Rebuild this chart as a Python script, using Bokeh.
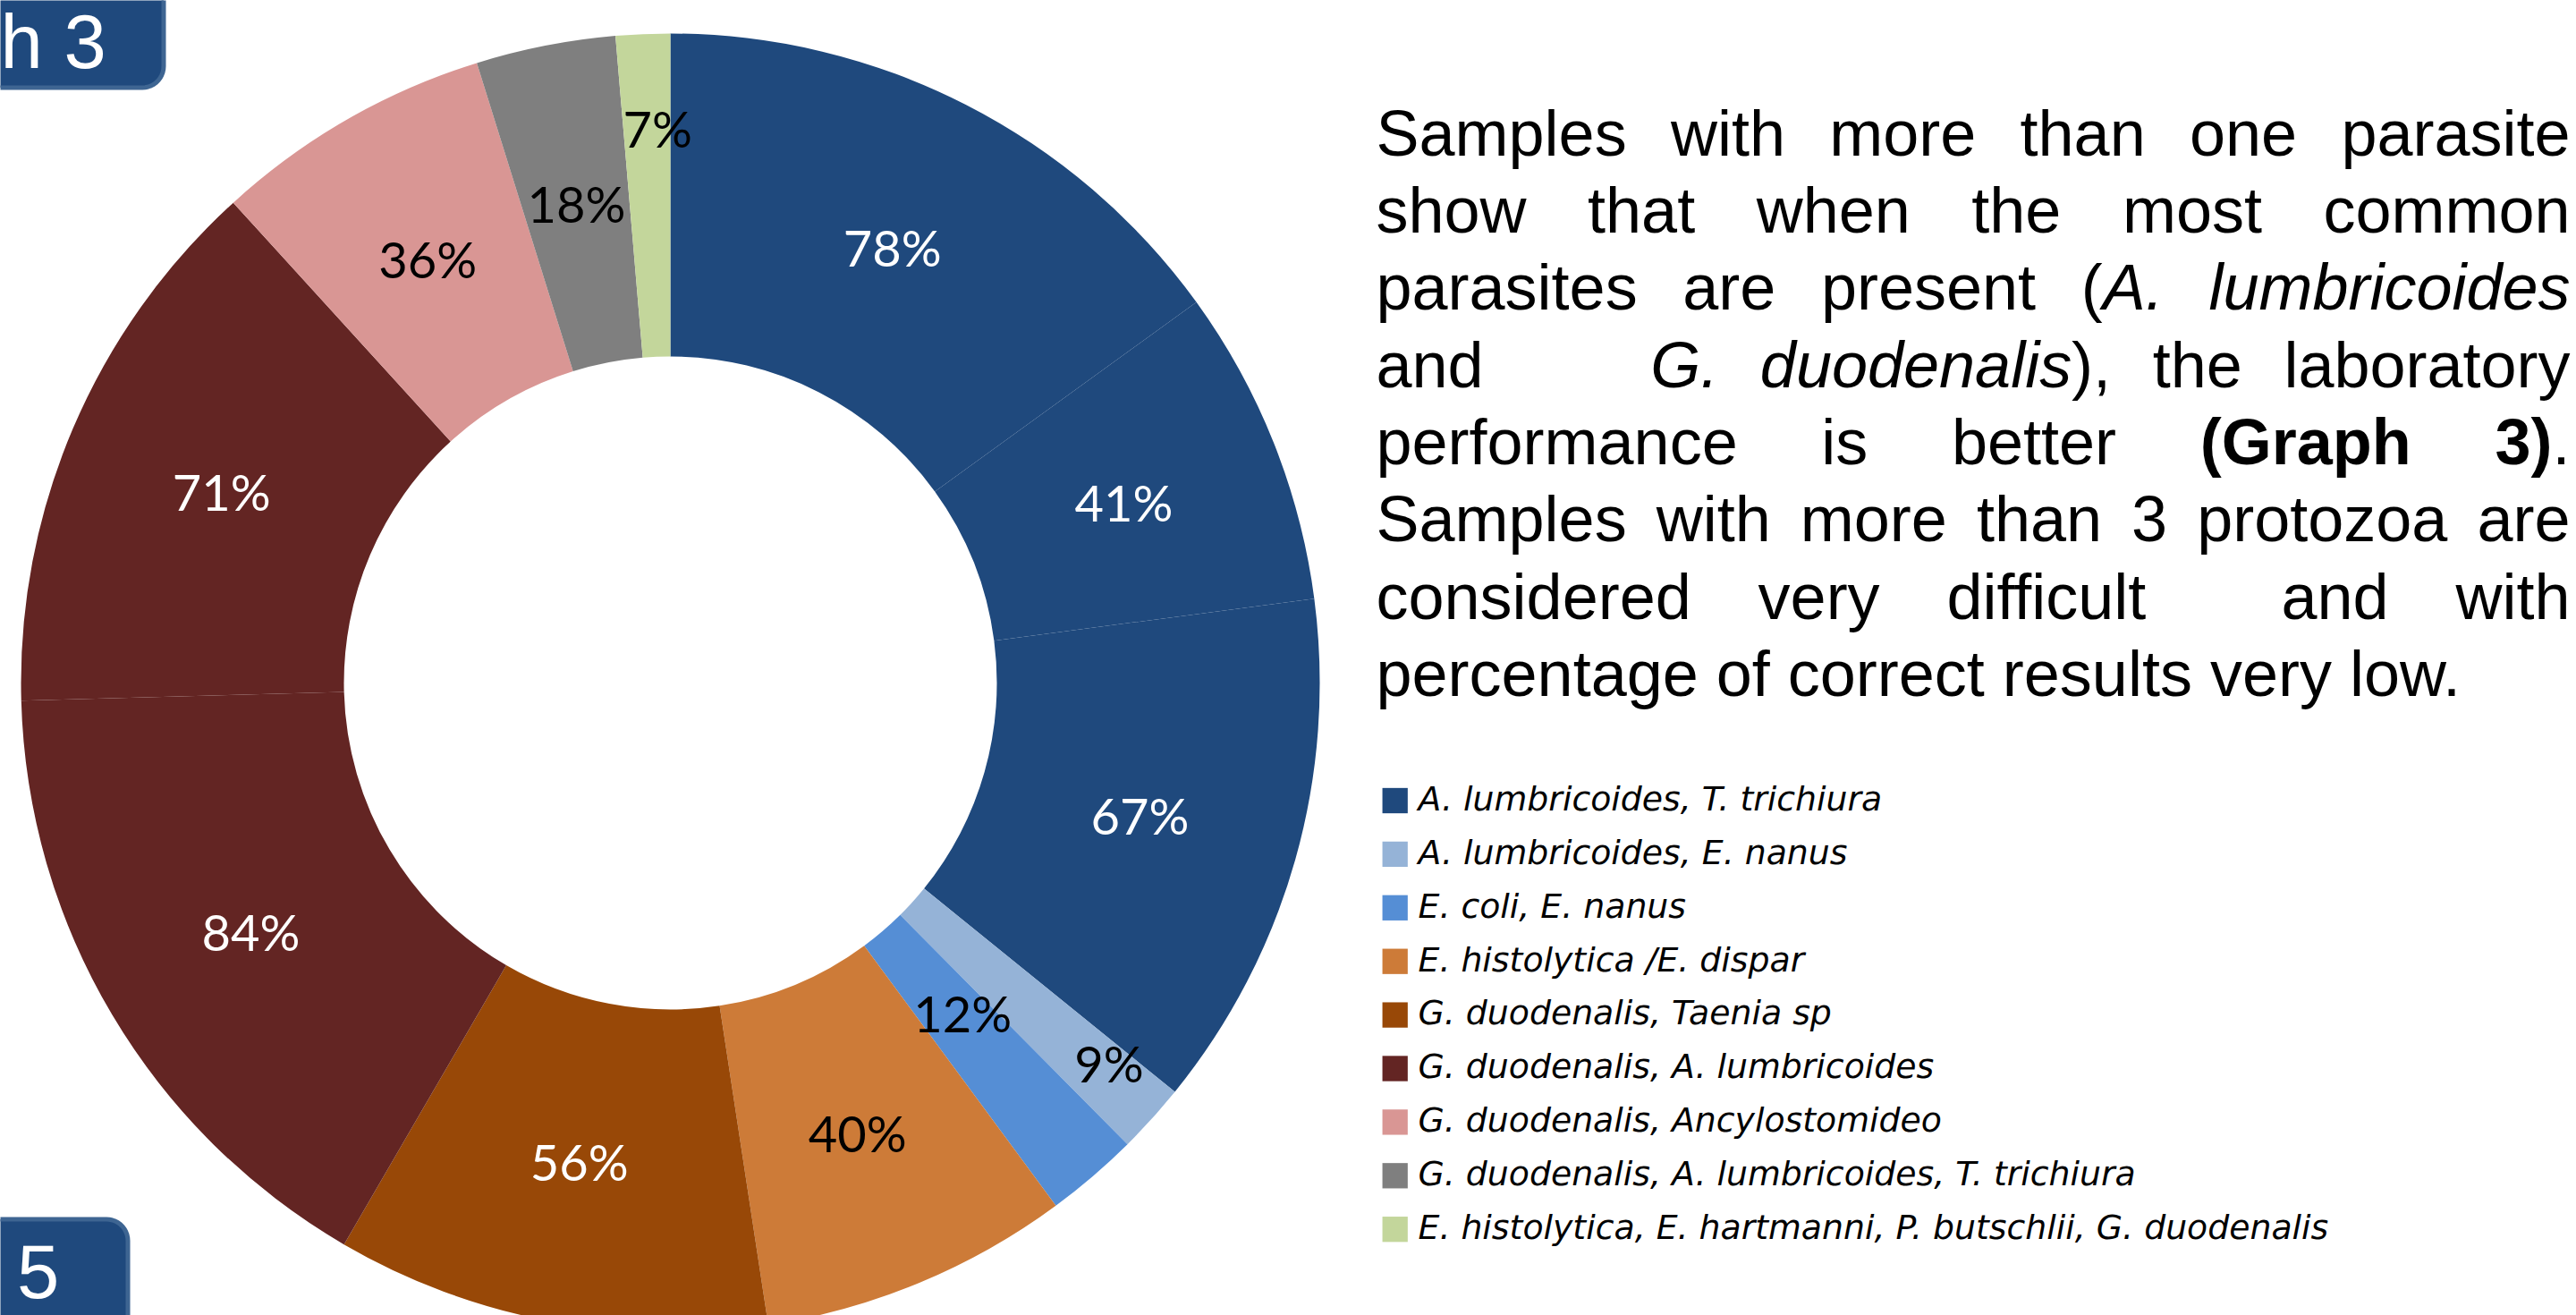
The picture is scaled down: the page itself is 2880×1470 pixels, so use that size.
import numpy as np
from bokeh.plotting import figure
from bokeh.models import Range1d, ColumnDataSource
from bokeh.core.properties import value
from bokeh.embed import file_html
from bokeh.resources import INLINE

# ---------------- data ----------------
categories = [
    "A. lumbricoides, T. trichiura",
    "A. lumbricoides, E. nanus",
    "E. coli, E. nanus",
    "E. histolytica /E. dispar",
    "G. duodenalis, Taenia sp",
    "G. duodenalis, A. lumbricoides",
    "G. duodenalis, Ancylostomideo",
    "G. duodenalis, A. lumbricoides, T. trichiura",
    "E. histolytica, E. hartmanni, P. butschlii, G. duodenalis",
]
category_colors = ["#1F497D", "#95B3D7", "#558ED5", "#CD7B38", "#984807",
                   "#632523", "#D99694", "#7F7F7F", "#C3D69B"]
label_on_dark = [True, False, False, False, True, True, False, False, False]

slice_values = [78, 41, 67, 9, 12, 40, 56, 84, 71, 36, 18, 7]
slice_category = [0, 0, 0, 1, 2, 3, 4, 5, 5, 6, 7, 8]

# label placement tweaks (Excel nudged a few crowded labels)
label_radial = [1, 1, 1, 1.19, 0.905, 1, 1, 1, 1, 1, 1, 1.135]
label_turn = [0, 0, 0, -1.2, -0.85, 0, 0, 0, 0, 0, 0, 1.1]

paragraph_lines = [
    "Samples with more than one parasite",
    "show that when the most common",
    "parasites are present (_A._ _lumbricoides_",
    "and    _G._ _duodenalis_), the laboratory",
    "performance is better *(Graph* *3)*.",
    "Samples with more than 3 protozoa are",
    "considered very difficult  and with",
    "percentage of correct results very low.",
]
tab_top_text = "h 3"
tab_bottom_text = "5"

# ---------------- canvas ----------------
W, H = 2880, 1470
p = figure(width=W, height=H, x_range=Range1d(0, W), y_range=Range1d(0, H),
           output_backend="svg", toolbar_location=None, min_border=0,
           outline_line_color=None, background_fill_color="white",
           border_fill_color="white")
p.axis.visible = False
p.grid.visible = False

def Y(py):
    return H - py

SHIFT = 0.37  # baseline correction (in em) for how the svg text is placed

def base(py, fs):
    """data-y for a text whose alphabetic baseline should sit at pixel row py"""
    return Y(py) + SHIFT * fs

# ---------------- donut ----------------
CX, CY = 749, Y(763)
R_OUT, R_IN = 726, 365
vals = np.array(slice_values, dtype=float)
total = vals.sum()
cum = np.concatenate([[0.0], np.cumsum(vals)])
start = np.pi / 2 - 2 * np.pi * cum[:-1] / total
end = np.pi / 2 - 2 * np.pi * cum[1:] / total
wsrc = ColumnDataSource(dict(start=start, end=end,
                             color=[category_colors[c] for c in slice_category]))
p.annular_wedge(x=CX, y=CY, inner_radius=R_IN, outer_radius=R_OUT,
                start_angle="start", end_angle="end", direction="clock",
                fill_color="color", line_color=None, source=wsrc)

LFS = 56
mid_deg = 360 * (cum[:-1] + vals / 2) / total + np.array(label_turn)
r_lab = (R_OUT + R_IN) / 2 * np.array(label_radial)
lx = CX + r_lab * np.sin(np.radians(mid_deg))
ly = CY + r_lab * np.cos(np.radians(mid_deg)) - 20 + SHIFT * LFS
lsrc = ColumnDataSource(dict(
    x=lx, y=ly, text=[f"{v}%" for v in slice_values],
    color=["white" if label_on_dark[c] else "black" for c in slice_category]))
p.text(x="x", y="y", text="text", text_color="color", text_font=value("Lato"),
       text_font_size=f"{LFS}px", text_align="center", text_baseline="alphabetic",
       source=lsrc)

# ---------------- legend ----------------
LEG_SQ_X, LEG_Y0, LEG_DY, SQ = 1559.2, 894.5, 59.9, 28.3
LEG_TX, LEG_FS = 1585, 37.8
n = len(categories)
legsrc = ColumnDataSource(dict(
    x=[LEG_SQ_X] * n, y=[Y(LEG_Y0 + i * LEG_DY) for i in range(n)],
    ty=[base(LEG_Y0 + i * LEG_DY + 11.8, LEG_FS) for i in range(n)],
    tx=[LEG_TX] * n, color=category_colors, text=categories))
p.rect(x="x", y="y", width=SQ, height=SQ, fill_color="color", line_color=None,
       source=legsrc)
p.text(x="tx", y="ty", text="text", text_color="black",
       text_font=value("DejaVu Sans"), text_font_style="italic",
       text_font_size=f"{LEG_FS}px", text_align="left",
       text_baseline="alphabetic", source=legsrc)

# ---------------- paragraph (justified) ----------------
FS = 72
L_MARGIN, R_MARGIN = 1538, 2873
BASE0, LEAD = 175, 86.3
W_REG = {' ': 278, '(': 333, ')': 333, ',': 278, '.': 278, '3': 556, 'A': 667,
         'G': 778, 'S': 667, 'a': 556, 'b': 556, 'c': 500, 'd': 556, 'e': 556,
         'f': 278, 'g': 556, 'h': 556, 'i': 222, 'l': 222, 'm': 833, 'n': 556,
         'o': 556, 'p': 556, 'r': 333, 's': 500, 't': 278, 'u': 556, 'v': 500,
         'w': 722, 'y': 500, 'z': 500, 'k': 500, 'x': 500}
W_BOLD = dict(W_REG)
W_BOLD.update({'r': 389, 'p': 611, 'h': 611, 'G': 778})
WIDTHS = {"normal": W_REG, "italic": W_REG, "bold": W_BOLD}

def runs_of(word):
    out, style, buf = [], "normal", ""
    for ch in word:
        if ch in "_*":
            if buf:
                out.append((buf, style))
                buf = ""
            tgt = "italic" if ch == "_" else "bold"
            style = "normal" if style == tgt else tgt
        else:
            buf += ch
    if buf:
        out.append((buf, style))
    return out

def run_width(text, style):
    return sum(WIDTHS[style].get(c, 556) for c in text) * FS / 1000.0

def words_of(line):
    res, pending = [], 0
    for tok in line.split(" "):
        if tok == "":
            pending += 1
            continue
        res.append((runs_of(tok), (pending + 1) if res else 0))
        pending = 0
    return res

para = {"normal": dict(x=[], y=[], text=[]),
        "italic": dict(x=[], y=[], text=[]),
        "bold": dict(x=[], y=[], text=[])}
space_w = W_REG[' '] * FS / 1000.0
for li, line in enumerate(paragraph_lines):
    words = words_of(line)
    widths = [sum(run_width(t, s) for t, s in w) for w, _ in words]
    gaps = [g for _, g in words]
    last = li == len(paragraph_lines) - 1
    unit = space_w if last else (R_MARGIN - L_MARGIN - sum(widths)) / max(sum(gaps), 1)
    x = L_MARGIN
    yb = base(BASE0 + li * LEAD, FS)
    for (runs, g), wd in zip(words, widths):
        x += g * unit
        xx = x
        for t, s in runs:
            para[s]["x"].append(xx)
            para[s]["y"].append(yb)
            para[s]["text"].append(t)
            xx += run_width(t, s)
        x += wd

for style, d in para.items():
    if d["text"]:
        p.text(x="x", y="y", text="text", source=ColumnDataSource(d),
               text_font=value("Liberation Sans"), text_font_size=f"{FS}px",
               text_font_style=style, text_color="black", text_align="left",
               text_baseline="alphabetic")

# ---------------- rounded tab boxes ----------------
def rounded_rect(x0, y0, x1, y1, r, n=12):
    xs, ys = [], []
    corners = [(x1 - r, y0 + r, -90, 0), (x1 - r, y1 - r, 0, 90),
               (x0 + r, y1 - r, 90, 180), (x0 + r, y0 + r, 180, 270)]
    for cx, cy, a0, a1 in corners:
        for a in np.linspace(np.radians(a0), np.radians(a1), n):
            xs.append(cx + r * np.cos(a))
            ys.append(Y(cy + r * np.sin(a)))
    return xs, ys

TAB_FILL, TAB_EDGE = "#1F497D", "#3E6592"
TFS = 85
bx, by = rounded_rect(-60, -60, 182.5, 97.5, 24)
p.patch(bx, by, fill_color=TAB_FILL, line_color=TAB_EDGE, line_width=5)
bx2, by2 = rounded_rect(-60, 1362.5, 142.5, 1540, 24)
p.patch(bx2, by2, fill_color=TAB_FILL, line_color=TAB_EDGE, line_width=5)

p.text(x=[0], y=[base(77, TFS)], text=[tab_top_text], text_color="white",
       text_font=value("Liberation Sans"), text_font_size=f"{TFS}px",
       text_align="left", text_baseline="alphabetic")
p.text(x=[18.4], y=[base(1452, TFS)], text=[tab_bottom_text], text_color="white",
       text_font=value("Liberation Sans"), text_font_size=f"{TFS}px",
       text_align="left", text_baseline="alphabetic")

open("out.html", "w").write(file_html(p, INLINE))
